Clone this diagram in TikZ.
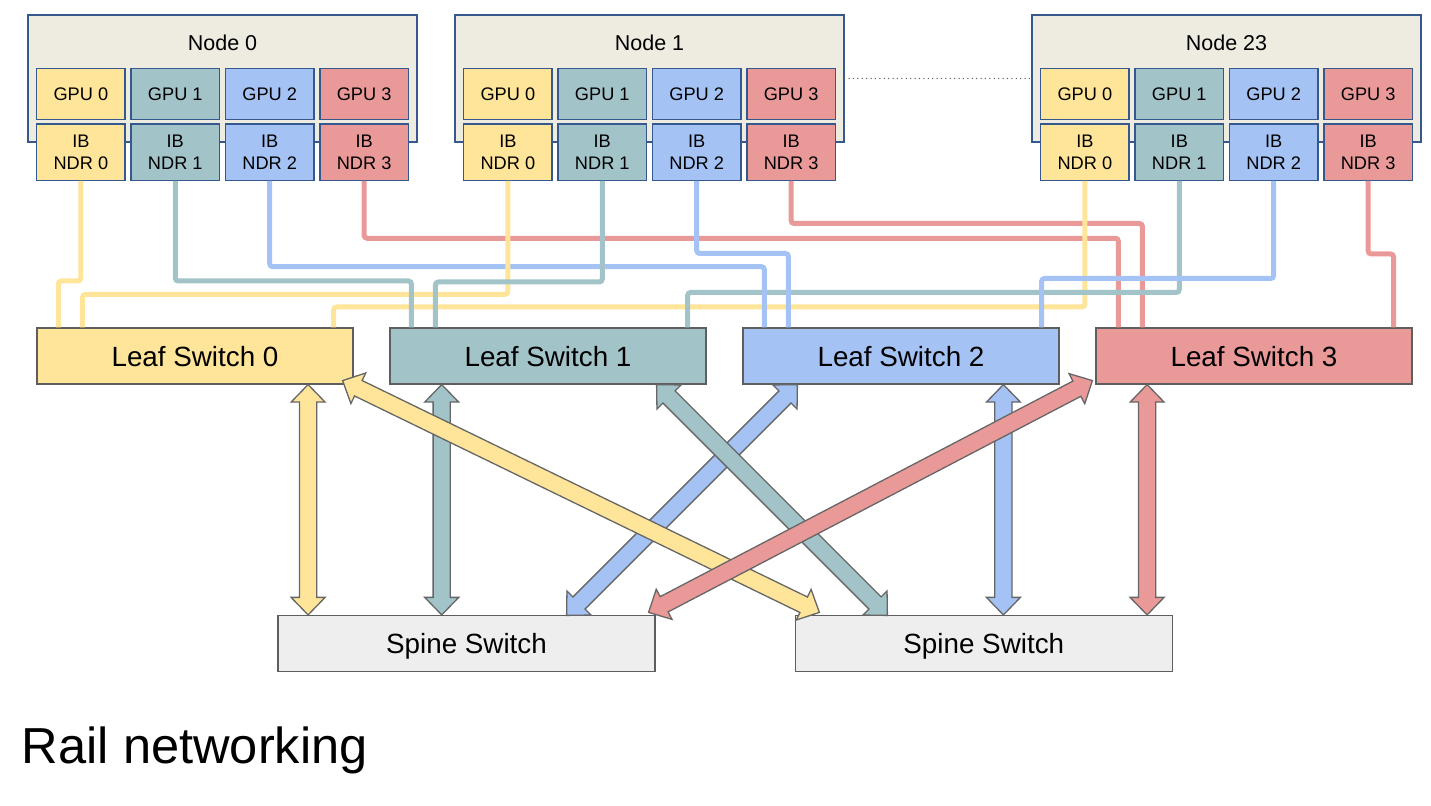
\documentclass[tikz,border=0pt]{standalone}
\usepackage{fontspec}
\setmainfont{Liberation Sans}
\usetikzlibrary{calc}
\definecolor{cy}{HTML}{FFE599}
\definecolor{ct}{HTML}{A2C4C9}
\definecolor{cb}{HTML}{A4C2F4}
\definecolor{cr}{HTML}{EA9999}
\definecolor{nodebg}{HTML}{EEECE1}
\definecolor{nodeline}{HTML}{35598F}
\definecolor{swline}{HTML}{5E5E5E}
\definecolor{spinebg}{HTML}{EEEEEE}
\definecolor{arrline}{HTML}{666666}
\definecolor{dotline}{HTML}{666666}
\newcommand\chipfont{\fontsize{9.1pt}{10.9pt}\selectfont}
\newcommand\nodelabfont{\fontsize{10.75pt}{12pt}\selectfont}
\newcommand\swfont{\fontsize{13.9pt}{16pt}\selectfont}
\newcommand\titlefont{\fontsize{25.3pt}{30pt}\selectfont}
\newcommand\dblarr[3]{%
  \filldraw[fill=#1,draw=arrline,line width=0.65pt,line join=miter]
    (#2)
    -- ($(#2)!8.75pt!(#3)!8.5pt!90:(#3)$)
    -- ($(#2)!8.75pt!(#3)!4.3pt!90:(#3)$)
    -- ($(#3)!8.75pt!(#2)!4.3pt!-90:(#2)$)
    -- ($(#3)!8.75pt!(#2)!8.5pt!-90:(#2)$)
    -- (#3)
    -- ($(#3)!8.75pt!(#2)!8.5pt!90:(#2)$)
    -- ($(#3)!8.75pt!(#2)!4.3pt!90:(#2)$)
    -- ($(#2)!8.75pt!(#3)!4.3pt!-90:(#3)$)
    -- ($(#2)!8.75pt!(#3)!8.5pt!-90:(#3)$)
    -- cycle;}
\begin{document}
\begin{tikzpicture}[x=0.5pt,y=-0.5pt,
  nodebox/.style={draw=nodeline,fill=nodebg,line width=0.65pt,minimum width=194.5pt,minimum height=63.5pt,inner sep=0pt},
  nodelab/.style={inner sep=0pt,font=\nodelabfont},
  chip/.style={draw=nodeline,line width=0.65pt,minimum width=44.15pt,inner sep=0pt,align=center,font=\chipfont},
  gpu/.style={chip,minimum height=25.5pt},
  nic/.style={chip,minimum height=28.15pt},
  leafsw/.style={draw=swline,line width=0.6pt,minimum width=158pt,minimum height=28pt,inner sep=0pt,text depth=0pt,font=\swfont},
  spinesw/.style={leafsw,fill=spinebg,minimum width=188.5pt},
  cable/.style={line width=2.5pt,rounded corners=1.5pt},
  dotconn/.style={draw=dotline,line width=0.75pt,line cap=round,dash pattern=on 0pt off 2.2pt}]
\useasboundingbox (0,0) rectangle (1431,806);

% compute nodes
\foreach \k/\off in {0/0,1/427,23/1004}{
  \node[nodebox] (n\k) at (222.5+\off,78.5) {};
  \node[nodelab] (lab\k) at (222.5+\off,42.7) {Node \k};
  \foreach \j/\c in {0/cy,1/ct,2/cb,3/cr}{
    \node[gpu,fill=\c] (n\k g\j) at (80.85+\off+94.43*\j,93.8) {GPU \j};
    \node[nic,fill=\c] (n\k r\j) at (80.85+\off+94.43*\j,152.2) {IB\\NDR \j};
  }
}
\draw[dotconn] (n1.east) -- (n23.west);

% switches
\node[leafsw,fill=cy] (leaf0) at (195,356) {Leaf Switch 0};
\node[leafsw,fill=ct] (leaf1) at (548,356) {Leaf Switch 1};
\node[leafsw,fill=cb] (leaf2) at (901,356) {Leaf Switch 2};
\node[leafsw,fill=cr] (leaf3) at (1254,356) {Leaf Switch 3};
\node[spinesw] (spine0) at (466.5,643.5) {Spine Switch};
\node[spinesw] (spine1) at (983.8,643.5) {Spine Switch};

% cables (bottom to top)
\draw[cable,cr] (n0r3.south) -- ++(0,57.3) -| ($(leaf3.north west)+(23,0)$);
\draw[cable,cr] (n1r3.south) -- ++(0,42.5) -| ($(leaf3.north west)+(47,0)$);
\draw[cable,cr] (n23r3.south) -- ++(0,73) -| ($(leaf3.north east)+(-19,0)$);
\draw[cable,cy] (n23r0.south) -- ++(0,126) -| ($(leaf0.north east)+(-20,0)$);
\draw[cable,ct] (n23r1.south) -- ++(0,111.5) -| ($(leaf1.north east)+(-19,0)$);
\draw[cable,cb] (n0r2.south) -- ++(0,85.7) -| ($(leaf2.north west)+(22,0)$);
\draw[cable,cb] (n1r2.south) -- ++(0,72.5) -| ($(leaf2.north west)+(46,0)$);
\draw[cable,cb] (n23r2.south) -- ++(0,97.5) -| ($(leaf2.north east)+(-18,0)$);
\draw[cable,cy] (n1r0.south) -- ++(0,113.5) -| ($(leaf0.north west)+(46,0)$);
\draw[cable,ct] (n0r1.south) -- ++(0,100) -| ($(leaf1.north west)+(22,0)$);
\draw[cable,ct] (n1r1.south) -- ++(0,101) -| ($(leaf1.north west)+(46,0)$);
\draw[cable,cy] (n0r0.south) -- ++(0,100) -| ($(leaf0.north west)+(22,0)$);

% arrow end points
\coordinate (vy1) at ($(leaf0.south west)+(271.7,0)$);
\coordinate (vy2) at ($(spine0.north west)+(30.7,0)$);
\coordinate (vt1) at ($(leaf1.south west)+(52.3,0)$);
\coordinate (vt2) at ($(spine0.north west)+(164.3,0)$);
\coordinate (vb1) at ($(leaf2.south west)+(261,0)$);
\coordinate (vb2) at ($(spine1.north west)+(208.7,0)$);
\coordinate (vr1) at ($(leaf3.south west)+(51.7,0)$);
\coordinate (vr2) at ($(spine1.north west)+(352.4,0)$);
\coordinate (dy1) at ($(leaf0.south east)+(-11,-4)$);
\coordinate (dy2) at ($(spine1.north west)+(24.7,-2.5)$);
\coordinate (dr1) at ($(leaf3.south west)+(-3,-4)$);
\coordinate (dr2) at ($(spine0.north east)+(-7,-2.5)$);
\coordinate (dt1) at ($(leaf1.south east)+(-50,0)$);
\coordinate (dt2) at ($(spine1.north west)+(92.7,0.5)$);
\coordinate (db1) at ($(leaf2.south west)+(55,0)$);
\coordinate (db2) at ($(spine0.north east)+(-89,0.5)$);

\dblarr{cy}{vy1}{vy2}
\dblarr{ct}{vt1}{vt2}
\dblarr{cb}{vb1}{vb2}
\dblarr{cr}{vr1}{vr2}
\dblarr{cb}{db1}{db2}
\dblarr{ct}{dt1}{dt2}
\dblarr{cy}{dy1}{dy2}
\dblarr{cr}{dr1}{dr2}

\node[anchor=base west,inner sep=0pt,font=\titlefont] (title) at (21.5,763.5) {Rail networking};
\end{tikzpicture}
\end{document}
